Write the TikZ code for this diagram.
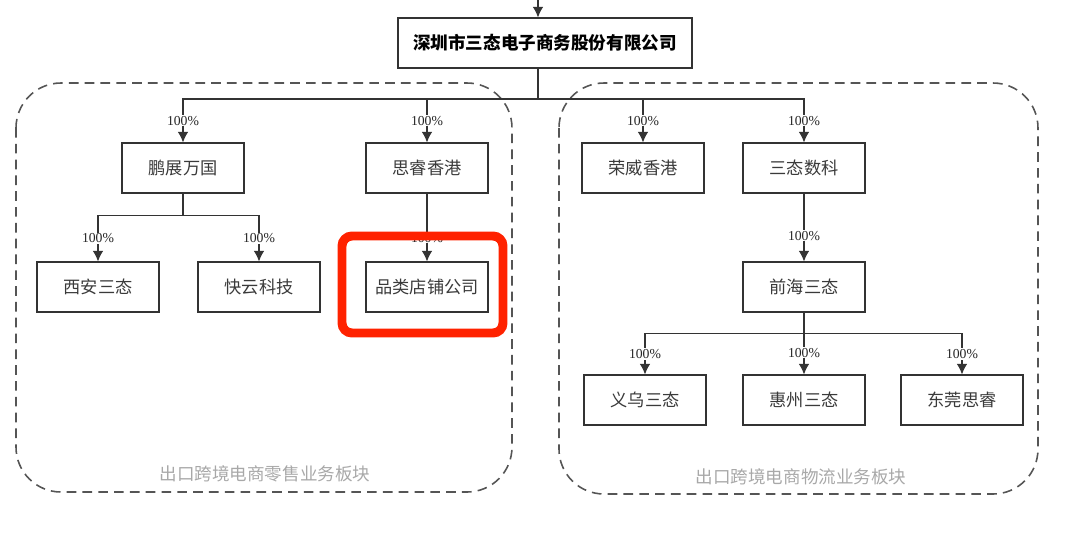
\documentclass[tikz,border=0pt]{standalone}
\usepackage{fontspec}
\setmainfont{Liberation Serif}
\newfontfamily\cjk{Noto Sans CJK SC}
\usetikzlibrary{arrows.meta}
\definecolor{boxline}{HTML}{333333}
\definecolor{boxtext}{HTML}{3A3A3A}
\definecolor{groupline}{HTML}{555555}
\definecolor{grouptext}{HTML}{A8A8A8}
\definecolor{markred}{HTML}{FF2200}
\tikzset{
	company/.style={draw=boxline, line width=0.65pt, minimum width=2.44cm, minimum height=1cm,
		inner sep=0pt, font=\cjk\fontsize{9.8}{11}\selectfont, text=boxtext},
	share/.style={-{Latex[length=6pt,width=6pt]}, draw=boxline, line width=0.65pt},
	pct/.style={fill=white, inner sep=0.6pt, font=\fontsize{7.8}{9}\selectfont, text=black!85},
	group/.style={draw=groupline, line width=0.9pt, dash pattern=on 5.5pt off 3.5pt, rounded corners=0.9cm},
	grouplabel/.style={font=\cjk\fontsize{10}{12}\selectfont, text=grouptext}
}

\begin{document}
\begin{tikzpicture}[x=0.02cm, y=-0.02cm]
	\useasboundingbox (0,0) rectangle (1080,532);
	
	% Draw business groups
	\draw[group] (16,83) rectangle (512,492);
	\draw[group] (559,83) rectangle (1038,494);
	\node[grouplabel] (retail) at (265,474) {出口跨境电商零售业务板块};
	\node[grouplabel] (logistics) at (801,477) {出口跨境电商物流业务板块};
	
	% Draw companies
	\node[company, minimum width=5.88cm, font=\cjk\bfseries\fontsize{10}{12}\selectfont, text=black] (sz) at (545,43) {深圳市三态电子商务股份有限公司};
	\node[company] (pz) at (183,168) {鹏展万国};
	\node[company] (srhk) at (427,168) {思睿香港};
	\node[company] (rw) at (643,168) {荣威香港};
	\node[company] (stsk) at (804,168) {三态数科};
	\node[company] (xa) at (98,287) {西安三态};
	\node[company] (ky) at (259,287) {快云科技};
	\node[company] (plsp) at (427,287) {品类店铺公司};
	\node[company] (qh) at (804,287) {前海三态};
	\node[company] (yw) at (645,400) {义乌三态};
	\node[company] (hz) at (804,400) {惠州三态};
	\node[company] (dg) at (962,400) {东莞思睿};
	
	% Draw holdings
	\coordinate (in) at (538,0);
	\coordinate (bus) at (538,99);
	\draw[share] (in) -- (in |- sz.north);
	\draw[boxline, line width=0.65pt] (in |- sz.south) -- (bus);
	\draw[share] (bus) -| node[pct, pos=0.75]{100\%} (pz.north);
	\draw[share] (bus) -| node[pct, pos=0.75]{100\%} (srhk.north);
	\draw[share] (bus) -| node[pct, pos=0.75]{100\%} (rw.north);
	\draw[share] (bus) -| node[pct, pos=0.75]{100\%} (stsk.north);
	
	\draw[share] (pz.south) -- ++(0,22) -| node[pct, pos=0.75]{100\%} (xa.north);
	\draw[share] (pz.south) -- ++(0,22) -| node[pct, pos=0.75]{100\%} (ky.north);
	\draw[share] (srhk) -- node[pct, pos=0.65]{100\%} (plsp);
	\draw[share] (stsk) -- node[pct, pos=0.62]{100\%} (qh);
	
	\draw[share] (qh.south) -- ++(0,21) -| node[pct, pos=0.75]{100\%} (yw.north);
	\draw[share] (qh) -- node[pct, pos=0.65]{100\%} (hz);
	\draw[share] (qh.south) -- ++(0,21) -| node[pct, pos=0.75]{100\%} (dg.north);
	
	% Draw highlight
	\draw[markred, line width=5.1pt, rounded corners=0.2cm] (342,236) rectangle (503,333);
\end{tikzpicture}
\end{document}
